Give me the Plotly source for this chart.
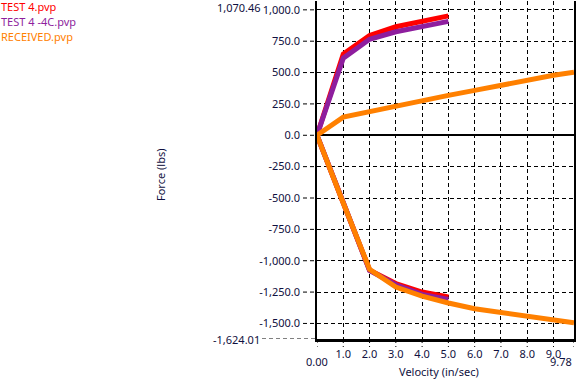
import plotly.graph_objects as go

# ---- data ----
series_names = ["TEST 4.pvp", "TEST 4 -4C.pvp", "RECEIVED.pvp"]
series_colors = ["#FF0000", "#8E1E9E", "#FF8000"]

test4_vel = [0, 1, 2, 3, 4, 5]
test4_comp = [0, 648, 795, 865, 910, 952]
test4_reb = [0, -540, -1075, -1182, -1250, -1288]

test4c_vel = [0, 1, 2, 3, 4, 5]
test4c_comp = [0, 615, 765, 825, 870, 908]
test4c_reb = [0, -535, -1078, -1192, -1268, -1308]

recv_vel = [0, 1, 2, 3, 4, 5, 6, 7, 8, 9, 9.78]
recv_comp = [0, 145, 190, 235, 277, 318, 358, 400, 442, 478, 503]
recv_reb = [0, -540, -1068, -1210, -1282, -1337, -1383, -1417, -1445, -1472, -1495]

x_min, x_max = 0.0, 9.78
y_min, y_max = -1624.01, 1070.46
x_ticks = [1, 2, 3, 4, 5, 6, 7, 8, 9]
x_ticktext = ["1.0", "2.0", "3.0", "4.0", "5.0", "6.0", "7.0", "8.0", "9.0"]
y_ticks = [-1500, -1250, -1000, -750, -500, -250, 0, 250, 500, 750, 1000]
y_ticktext = ["-1,500.0", "-1,250.0", "-1,000.0", "-750.0", "-500.0", "-250.0",
              "0.0", "250.0", "500.0", "750.0", "1,000.0"]

FONT = "Noto Sans"
TXT = "#101040"
DASH = "4px,3px"

fig = go.Figure()
for vel, comp, reb, name, col in [
    (test4_vel, test4_comp, test4_reb, series_names[0], series_colors[0]),
    (test4c_vel, test4c_comp, test4c_reb, series_names[1], series_colors[1]),
    (recv_vel, recv_comp, recv_reb, series_names[2], series_colors[2]),
]:
    xs = list(reversed(vel)) + vel[1:]
    ys = list(reversed(reb)) + comp[1:]
    fig.add_trace(go.Scatter(x=xs, y=ys, mode="lines", name=name,
                             line=dict(color=col, width=5), showlegend=False))

W, H = 585, 386
ml, mr, mt, mb = 317, 11, 1, 47
pw = W - ml - mr
ph = H - mt - mb

shapes = []
# dashed tick extensions to the left of the y axis
for v in y_ticks:
    shapes.append(dict(type="line", xref="paper", yref="y", x0=-14 / pw, x1=0,
                       y0=v, y1=v, line=dict(color="black", width=1, dash=DASH)))
shapes.append(dict(type="line", xref="paper", yref="y", x0=-55 / pw, x1=0,
                   y0=y_min, y1=y_min, line=dict(color="black", width=1, dash=DASH)))
# dashed tick extensions below the x axis
for v in [x_min] + x_ticks + [x_max]:
    shapes.append(dict(type="line", xref="x", yref="paper", x0=v, x1=v,
                       y0=0, y1=-8 / ph, line=dict(color="black", width=1, dash=DASH)))

annotations = []
# legend texts
for i, (name, col) in enumerate(zip(series_names, series_colors)):
    annotations.append(dict(text=name, xref="paper", yref="paper", x=0, y=1,
                            xshift=-ml - 1, yshift=-(6.5 + 15.2 * i) + mt,
                            xanchor="left", yanchor="middle", showarrow=False,
                            font=dict(family=FONT, size=11, color=col)))
# extreme labels
annotations.append(dict(text="1,070.46", xref="paper", yref="y", x=0, y=y_max,
                        xshift=-54, yshift=-6, xanchor="right", yanchor="middle",
                        showarrow=False, font=dict(family=FONT, size=11, color=TXT)))
annotations.append(dict(text="-1,624.01", xref="paper", yref="y", x=0, y=y_min,
                        xshift=-55, xanchor="right", yanchor="middle",
                        showarrow=False, font=dict(family=FONT, size=11, color=TXT)))
annotations.append(dict(text="0.00", xref="x", yref="paper", x=x_min, y=0,
                        yshift=-22.5, xanchor="center", yanchor="middle",
                        showarrow=False, font=dict(family=FONT, size=11, color=TXT)))
annotations.append(dict(text="9.78", xref="x", yref="paper", x=x_max, y=0,
                        yshift=-22.5, xanchor="right", yanchor="middle",
                        showarrow=False, font=dict(family=FONT, size=11, color=TXT)))
# axis titles
annotations.append(dict(text="Velocity (in/sec)", xref="paper", yref="paper",
                        x=(439 - ml) / pw, y=0, yshift=-32, xanchor="center",
                        yanchor="middle", showarrow=False,
                        font=dict(family=FONT, size=11, color=TXT)))
annotations.append(dict(text="Force (lbs)", xref="paper", yref="paper",
                        x=(160 - ml) / pw, y=(H - mb - 175) / ph, textangle=-90,
                        xanchor="center", yanchor="middle", showarrow=False,
                        font=dict(family=FONT, size=11, color=TXT)))

fig.update_layout(
    width=W, height=H,
    margin=dict(l=ml, r=mr, t=mt, b=mb, pad=0),
    paper_bgcolor="white", plot_bgcolor="white",
    font=dict(family=FONT, size=11, color=TXT),
    showlegend=False,
    shapes=shapes,
    annotations=annotations,
    xaxis=dict(range=[x_min, x_max], tickvals=x_ticks, ticktext=x_ticktext,
               showgrid=True, gridcolor="black", griddash=DASH, gridwidth=1,
               zeroline=False, showline=True, linecolor="black", linewidth=3,
               ticks="outside", ticklen=3, tickcolor="rgba(0,0,0,0)",
               tickfont=dict(family=FONT, size=11, color=TXT), fixedrange=True),
    yaxis=dict(range=[y_min, y_max], tickvals=y_ticks, ticktext=y_ticktext,
               showgrid=True, gridcolor="black", griddash=DASH, gridwidth=1,
               zeroline=True, zerolinecolor="black", zerolinewidth=1.5,
               showline=True, linecolor="black", linewidth=1.5, mirror=True,
               ticks="outside", ticklen=13, tickcolor="rgba(0,0,0,0)",
               tickfont=dict(family=FONT, size=11, color=TXT), fixedrange=True),
)

fig.write_html("out.html", config={"displayModeBar": False},
               post_script="document.body.style.margin='0px';document.body.style.overflow='hidden';")
